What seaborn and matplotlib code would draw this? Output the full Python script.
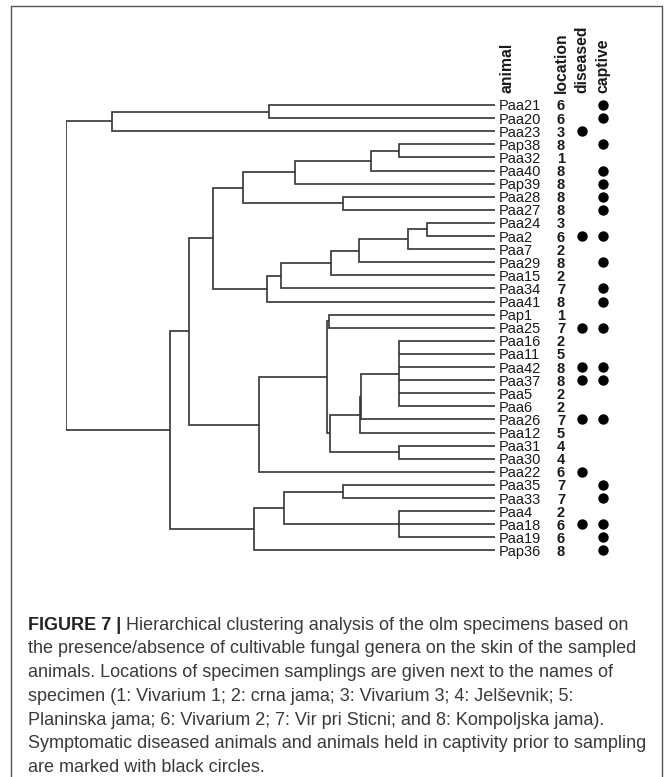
import numpy as np
import pandas as pd
import matplotlib
matplotlib.use("Agg")
import matplotlib.pyplot as plt
import seaborn as sns
from matplotlib.lines import Line2D

# ---------------- data ----------------
animals = ["Paa21", "Paa20", "Paa23", "Pap38", "Paa32", "Paa40", "Pap39", "Paa28", "Paa27",
           "Paa24", "Paa2", "Paa7", "Paa29", "Paa15", "Paa34", "Paa41", "Pap1", "Paa25",
           "Paa16", "Paa11", "Paa42", "Paa37", "Paa5", "Paa6", "Paa26", "Paa12", "Paa31",
           "Paa30", "Paa22", "Paa35", "Paa33", "Paa4", "Paa18", "Paa19", "Pap36"]
locations = [6, 6, 3, 8, 1, 8, 8, 8, 8, 3, 6, 2, 8, 2, 7, 8, 1, 7, 2, 5, 8, 8, 2, 2, 7, 5,
             4, 4, 6, 7, 7, 2, 6, 6, 8]
diseased = [0, 0, 1, 0, 0, 0, 0, 0, 0, 0, 1, 0, 0, 0, 0, 0, 0, 1, 0, 0, 1, 1, 0, 0, 1, 0,
            0, 0, 1, 0, 0, 0, 1, 0, 0]
captive = [1, 1, 0, 1, 0, 1, 1, 1, 1, 0, 1, 0, 1, 0, 1, 1, 0, 1, 0, 0, 1, 1, 0, 0, 1, 0,
           0, 0, 0, 1, 1, 0, 1, 1, 1]

# hierarchical merges (children are leaves or earlier nodes n0, n1, ...)
merge_children = [
    ["Paa21", "Paa20"],                                   # n0
    ["n0", "Paa23"],                                      # n1
    ["Pap38", "Paa32"],                                   # n2
    ["n2", "Paa40"],                                      # n3
    ["n3", "Pap39"],                                      # n4
    ["Paa28", "Paa27"],                                   # n5
    ["n4", "n5"],                                         # n6
    ["Paa24", "Paa2"],                                    # n7
    ["n7", "Paa7"],                                       # n8
    ["n8", "Paa29"],                                      # n9
    ["n9", "Paa15"],                                      # n10
    ["n10", "Paa34"],                                     # n11
    ["n11", "Paa41"],                                     # n12
    ["n6", "n12"],                                        # n13
    ["Pap1", "Paa25"],                                    # n14
    ["Paa16", "Paa11", "Paa42", "Paa37", "Paa5", "Paa6"], # n15
    ["n15", "Paa26"],                                     # n16
    ["n16", "Paa12"],                                     # n17
    ["Paa31", "Paa30"],                                   # n18
    ["n17", "n18"],                                       # n19
    ["n14", "n19"],                                       # n20
    ["n20", "Paa22"],                                     # n21
    ["n13", "n21"],                                       # n22
    ["Paa35", "Paa33"],                                   # n23
    ["Paa4", "Paa18", "Paa19"],                           # n24
    ["n23", "n24"],                                       # n25
    ["n25", "Pap36"],                                     # n26
    ["n22", "n26"],                                       # n27
    ["n1", "n27"],                                        # n28
]
merge_heights = [0.526, 0.892, 0.223, 0.290, 0.467, 0.353, 0.588, 0.158, 0.202, 0.317,
                 0.381, 0.498, 0.532, 0.658, 0.387, 0.223, 0.311, 0.314, 0.223, 0.385,
                 0.391, 0.549, 0.713, 0.353, 0.223, 0.491, 0.561, 0.758, 1.000]

headers = ["animal", "location", "diseased", "captive"]

caption_bold = "FIGURE 7 |"
caption_lines = [
    " Hierarchical clustering analysis of the olm specimens based on",
    "the presence/absence of cultivable fungal genera on the skin of the sampled",
    "animals. Locations of specimen samplings are given next to the names of",
    "specimen (1: Vivarium 1; 2: crna jama; 3: Vivarium 3; 4: Jelševnik; 5:",
    "Planinska jama; 6: Vivarium 2; 7: Vir pri Sticni; and 8: Kompoljska jama).",
    "Symptomatic diseased animals and animals held in captivity prior to sampling",
    "are marked with black circles.",
]

# ---------------- style ----------------
sns.set_theme(style="white")
plt.rcParams["font.family"] = ["Liberation Sans", "DejaVu Sans"]

W, H = 670, 777
fig = plt.figure(figsize=(W / 100, H / 100), dpi=100)
fig.patch.set_facecolor("white")

n = len(animals)
x_root, x_leaf = 65.7, 495.0
y_first, y_last = 105.0, 550.5
step = (y_last - y_first) / (n - 1)
top_px = y_first - step / 2
bot_px = y_last + step / 2
ax_rect = [x_root / W, 1 - bot_px / H, (x_leaf - x_root) / W, (bot_px - top_px) / H]

ax = fig.add_axes(ax_rect)
ax.set_xlim(max(merge_heights), 0)
ax.set_ylim(n - 0.5, -0.5)
ax.axis("off")

line_col = "#333333"
lw = 1.2
pos = {a: float(i) for i, a in enumerate(animals)}
hgt = {a: 0.0 for a in animals}
for k, (ch, h) in enumerate(zip(merge_children, merge_heights)):
    ys = [pos[c] for c in ch]
    first, last = ch[0], ch[-1]
    ax.plot([hgt[first], h, h, hgt[last]], [pos[first], pos[first], pos[last], pos[last]],
            color=line_col, lw=lw, solid_joinstyle="miter", solid_capstyle="butt")
    for c in ch[1:-1]:
        ax.plot([hgt[c], h], [pos[c], pos[c]], color=line_col, lw=lw, solid_capstyle="butt")
    pos[f"n{k}"] = float(np.mean(ys))
    hgt[f"n{k}"] = h

# ---------------- annotation columns ----------------
ax2 = fig.add_axes([x_leaf / W, ax_rect[1], (W - x_leaf) / W, ax_rect[3]])
col_x = {"animal": 499.0, "location": 561.0, "diseased": 581.5, "captive": 602.5}

df = pd.DataFrame({"animal": animals, "idx": np.arange(n), "location": locations,
                   "diseased": diseased, "captive": captive})
dots = pd.concat([
    df[df["diseased"] == 1].assign(col=col_x["diseased"]),
    df[df["captive"] == 1].assign(col=col_x["captive"]),
])
sns.scatterplot(data=dots, x="col", y="idx", ax=ax2, s=56, color="black",
                edgecolor="black", linewidth=0, legend=False)
ax2.set_xlim(x_leaf, W)
ax2.set_ylim(n - 0.5, -0.5)
ax2.axis("off")

for i, row in df.iterrows():
    ax2.text(col_x["animal"], row["idx"], row["animal"], ha="left", va="center_baseline",
             fontsize=10.5, color="#1a1a1a")
    ax2.text(col_x["location"], row["idx"], str(row["location"]), ha="center",
             va="center_baseline", fontsize=10.5, fontweight="bold", color="#1a1a1a")

head_x = {"animal": 507.0, "location": 561.0, "diseased": 582.0, "captive": 603.0}
for hname in headers:
    fig.text(head_x[hname] / W, 1 - 93.0 / H, hname, rotation=90, ha="center", va="bottom",
             fontsize=11.3, fontweight="bold", color="#1a1a1a")

# ---------------- frame ----------------
fc = "#555555"
xl, xr, yt = 11.0, 662.0, 6.0
fig.add_artist(Line2D([xl / W, xl / W], [0, 1 - yt / H], transform=fig.transFigure, color=fc, lw=1.0))
fig.add_artist(Line2D([xl / W, xr / W], [1 - yt / H, 1 - yt / H], transform=fig.transFigure, color=fc, lw=1.0))
fig.add_artist(Line2D([xr / W, xr / W], [0, 1 - yt / H], transform=fig.transFigure, color=fc, lw=1.0))

# ---------------- caption ----------------
cap_family = ["Liberation Sans Narrow", "Liberation Sans", "DejaVu Sans"]
cap_col = "#3a3a3a"
renderer = fig.canvas.get_renderer()
probe = fig.text(0, 0, caption_lines[1], fontsize=10, family=cap_family)
w_probe = probe.get_window_extent(renderer).width
probe.remove()
cap_size = 10 * 608.0 / w_probe

x0 = 27.5
base0 = 629.5
lead = 23.8
bt = fig.text(x0 / W, 1 - base0 / H, caption_bold, fontsize=cap_size, family=cap_family,
              fontweight="bold", color="#222222", va="baseline", ha="left")
bw = bt.get_window_extent(renderer).width
for j, line in enumerate(caption_lines):
    xx = x0 + (bw if j == 0 else 0)
    fig.text(xx / W, 1 - (base0 + j * lead) / H, line, fontsize=cap_size, family=cap_family,
             color=cap_col, va="baseline", ha="left")

fig.savefig("out.png", dpi=100, facecolor="white")
